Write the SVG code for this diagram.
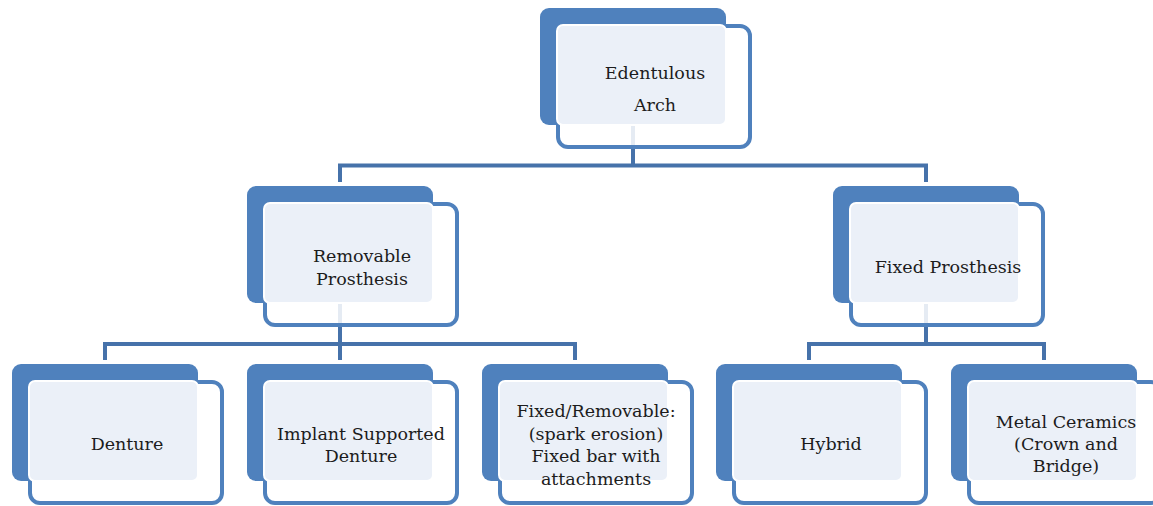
<svg xmlns="http://www.w3.org/2000/svg" width="1153" height="506" viewBox="0 0 1153 506">
<style>
.bg{fill:#fff}
.back{fill:#4F81BD}
.outl{fill:#fff;fill-opacity:0.86;stroke:#4F81BD;stroke-width:4}
.txtr{fill:#EBF0F8;stroke:#fff;stroke-width:2}
.conn{fill:none;stroke:#4672AA;stroke-width:4}
text{font-family:"DejaVu Serif","Liberation Serif",serif;font-size:17.5px;fill:#1c1c1c;text-anchor:middle}
</style>
<rect class="bg" x="0" y="0" width="1153" height="506"/>
<g id="connectors">
<path class="conn" d="M633,125 V165.5 M340,182 V165.5 H926 V182"/>
<path class="conn" d="M340,303 V360 M105,360 V344 H575 V360"/>
<path class="conn" d="M926,303 V344 M809,360 V344 H1044 V360"/>
</g>
<g id="n-edentulous">
<rect class="back" x="540" y="8" width="186" height="117" rx="9"/>
<rect class="outl" x="558" y="26" width="192" height="121" rx="10"/>
<rect class="txtr" x="557" y="25" width="169" height="100" rx="6"/>
<text x="655" y="79">Edentulous</text>
<text x="655" y="111">Arch</text>
</g>
<g id="n-removable">
<rect class="back" x="247" y="186" width="186" height="117" rx="9"/>
<rect class="outl" x="265" y="204" width="192" height="121" rx="10"/>
<rect class="txtr" x="264" y="203" width="169" height="100" rx="6"/>
<text x="362" y="262">Removable</text>
<text x="362" y="285">Prosthesis</text>
</g>
<g id="n-fixed">
<rect class="back" x="833" y="186" width="186" height="117" rx="9"/>
<rect class="outl" x="851" y="204" width="192" height="121" rx="10"/>
<rect class="txtr" x="850" y="203" width="169" height="100" rx="6"/>
<text x="948" y="273">Fixed Prosthesis</text>
</g>
<g id="n-denture">
<rect class="back" x="12" y="364" width="186" height="117" rx="9"/>
<rect class="outl" x="30" y="382" width="192" height="121" rx="10"/>
<rect class="txtr" x="29" y="381" width="169" height="100" rx="6"/>
<text x="127" y="450">Denture</text>
</g>
<g id="n-implant">
<rect class="back" x="247" y="364" width="186" height="117" rx="9"/>
<rect class="outl" x="265" y="382" width="192" height="121" rx="10"/>
<rect class="txtr" x="264" y="381" width="169" height="100" rx="6"/>
<text x="361" y="440">Implant Supported</text>
<text x="361" y="462">Denture</text>
</g>
<g id="n-fixedremovable">
<rect class="back" x="482" y="364" width="186" height="117" rx="9"/>
<rect class="outl" x="500" y="382" width="192" height="121" rx="10"/>
<rect class="txtr" x="499" y="381" width="169" height="100" rx="6"/>
<text x="596" y="417">Fixed/Removable:</text>
<text x="596" y="440">(spark erosion)</text>
<text x="596" y="462">Fixed bar with</text>
<text x="596" y="485">attachments</text>
</g>
<g id="n-hybrid">
<rect class="back" x="716" y="364" width="186" height="117" rx="9"/>
<rect class="outl" x="734" y="382" width="192" height="121" rx="10"/>
<rect class="txtr" x="733" y="381" width="169" height="100" rx="6"/>
<text x="831" y="450">Hybrid</text>
</g>
<g id="n-metal">
<rect class="back" x="951" y="364" width="186" height="117" rx="9"/>
<rect class="outl" x="969" y="382" width="192" height="121" rx="10"/>
<rect class="txtr" x="968" y="381" width="169" height="100" rx="6"/>
<text x="1066" y="428">Metal Ceramics</text>
<text x="1066" y="450">(Crown and</text>
<text x="1066" y="472">Bridge)</text>
</g>
</svg>
